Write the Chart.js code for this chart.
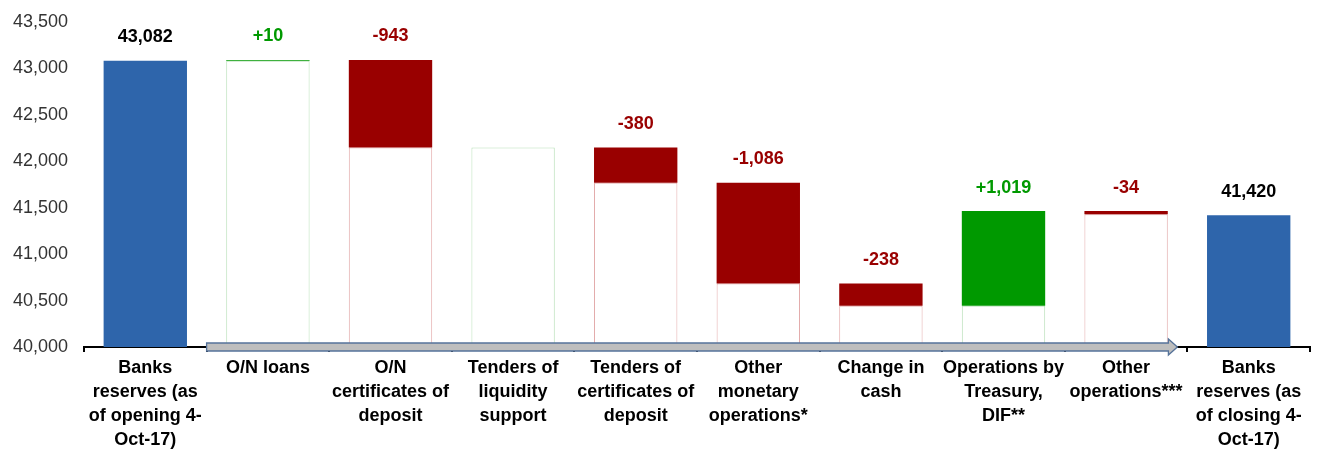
<!DOCTYPE html>
<html>
<head>
<meta charset="utf-8">
<script src="https://cdn.jsdelivr.net/npm/chart.js@4.4.0/dist/chart.umd.min.js"></script>
<style>
html,body{margin:0;padding:0;background:#fff;}
#wrap{width:1317px;height:453px;position:relative;}
</style>
</head>
<body>
<div id="wrap"><canvas id="c" width="1317" height="453"></canvas></div>
<script>
const categories = [
  ["Banks","reserves (as","of opening 4-","Oct-17)"],
  ["O/N loans"],
  ["O/N","certificates of","deposit"],
  ["Tenders of","liquidity","support"],
  ["Tenders of","certificates of","deposit"],
  ["Other","monetary","operations*"],
  ["Change in","cash"],
  ["Operations by","Treasury,","DIF**"],
  ["Other","operations***"],
  ["Banks","reserves (as","of closing 4-","Oct-17)"]
];
const openingValue = 43082;
const closingValue = 41420;
const changes = [null, 10, -943, 0, -380, -1086, -238, 1019, -34, null];
const valueLabels = ["43,082","+10","-943","","-380","-1,086","-238","+1,019","-34","41,420"];
const yTicks = [40000, 40500, 41000, 41500, 42000, 42500, 43000, 43500];

const BLUE = '#2E65AB', RED = '#990000', GREEN = '#009900';
const FONT = "'Liberation Sans',Arial,sans-serif";

const totals = [], deltas = [], boxes = [], deltaColors = [], boxBorders = [], labelColors = [], tops = [];
let run = openingValue;
for (let i = 0; i < categories.length; i++) {
  if (i === 0 || i === categories.length - 1) {
    const v = i === 0 ? openingValue : closingValue;
    totals.push([yTicks[0], v]); deltas.push(null); boxes.push(null);
    deltaColors.push(BLUE); boxBorders.push('#fff'); labelColors.push('#000'); tops.push(v);
  } else {
    const start = run, end = run + changes[i];
    run = end;
    const lo = Math.min(start, end), hi = Math.max(start, end);
    totals.push(null);
    deltas.push([lo, hi]);
    boxes.push([yTicks[0], lo]);
    const pos = changes[i] >= 0;
    deltaColors.push(pos ? GREEN : RED);
    boxBorders.push(pos ? '#B9E0B9' : '#E3ABAB');
    labelColors.push(pos ? GREEN : RED);
    tops.push(hi);
  }
}

const overlay = {
  id: 'overlay',
  afterDraw(chart) {
    const ctx = chart.ctx, x = chart.scales.x, y = chart.scales.y;
    const y0 = y.getPixelForValue(yTicks[0]);
    const left = (x.getPixelForValue(0) + x.getPixelForValue(1)) / 2;
    const tip = (x.getPixelForValue(8) + x.getPixelForValue(9)) / 2 - 10;
    const headBase = tip - 9;
    const bt = y0 - 4, bb = y0 + 4, ht = y0 - 8, hb = y0 + 8, ym = y0;
    ctx.save();
    ctx.beginPath();
    ctx.moveTo(left, bt);
    ctx.lineTo(headBase, bt);
    ctx.lineTo(headBase, ht);
    ctx.lineTo(tip, ym);
    ctx.lineTo(headBase, hb);
    ctx.lineTo(headBase, bb);
    ctx.lineTo(left, bb);
    ctx.closePath();
    ctx.fillStyle = '#BEBEBE';
    ctx.fill();
    ctx.strokeStyle = '#56739A';
    ctx.lineWidth = 1.3;
    ctx.stroke();
    ctx.font = "bold 18px " + FONT;
    ctx.textAlign = 'center';
    ctx.textBaseline = 'middle';
    for (let i = 0; i < categories.length; i++) {
      if (!valueLabels[i]) continue;
      ctx.fillStyle = labelColors[i];
      ctx.fillText(valueLabels[i], x.getPixelForValue(i), y.getPixelForValue(tops[i]) - 23.5);
    }
    ctx.restore();
  }
};

new Chart(document.getElementById('c'), {
  type: 'bar',
  data: {
    labels: categories,
    datasets: [
      { data: deltas, backgroundColor: deltaColors, borderWidth: 0, grouped: false, barPercentage: 0.68, categoryPercentage: 1 },
      { data: boxes, backgroundColor: '#ffffff', borderColor: boxBorders, borderWidth: 1, borderSkipped: false, grouped: false, barPercentage: 0.68, categoryPercentage: 1 },
      { data: totals, backgroundColor: BLUE, borderWidth: 0, grouped: false, barPercentage: 0.68, categoryPercentage: 1 }
    ]
  },
  options: {
    responsive: false,
    animation: false,
    events: [],
    layout: { padding: { top: 22, right: 7, left: 0, bottom: 0 } },
    plugins: { legend: { display: false }, tooltip: { enabled: false } },
    scales: {
      x: {
        offset: true,
        afterFit(s) { s.height = 106; s.paddingLeft = 0; s.paddingRight = 0; },
        grid: { display: true, drawOnChartArea: false, drawTicks: true, tickLength: 5, color: '#000', lineWidth: 2, offset: true },
        border: { display: true, color: '#000', width: 2 },
        ticks: { color: '#000', font: { family: FONT, size: 18, weight: 'bold', lineHeight: '24px' }, padding: 4, maxRotation: 0, autoSkip: false }
      },
      y: {
        min: yTicks[0], max: yTicks[yTicks.length - 1],
        afterFit(s) { s.width = 84; s.paddingTop = 0; s.paddingBottom = 0; },
        afterBuildTicks(s) { s.ticks = yTicks.map(v => ({ value: v })); },
        grid: { display: false },
        border: { display: false },
        ticks: { color: '#333', padding: 8, font: { family: FONT, size: 18 }, callback: v => v.toLocaleString('en-US') }
      }
    }
  },
  plugins: [overlay]
});
</script>
</body>
</html>
